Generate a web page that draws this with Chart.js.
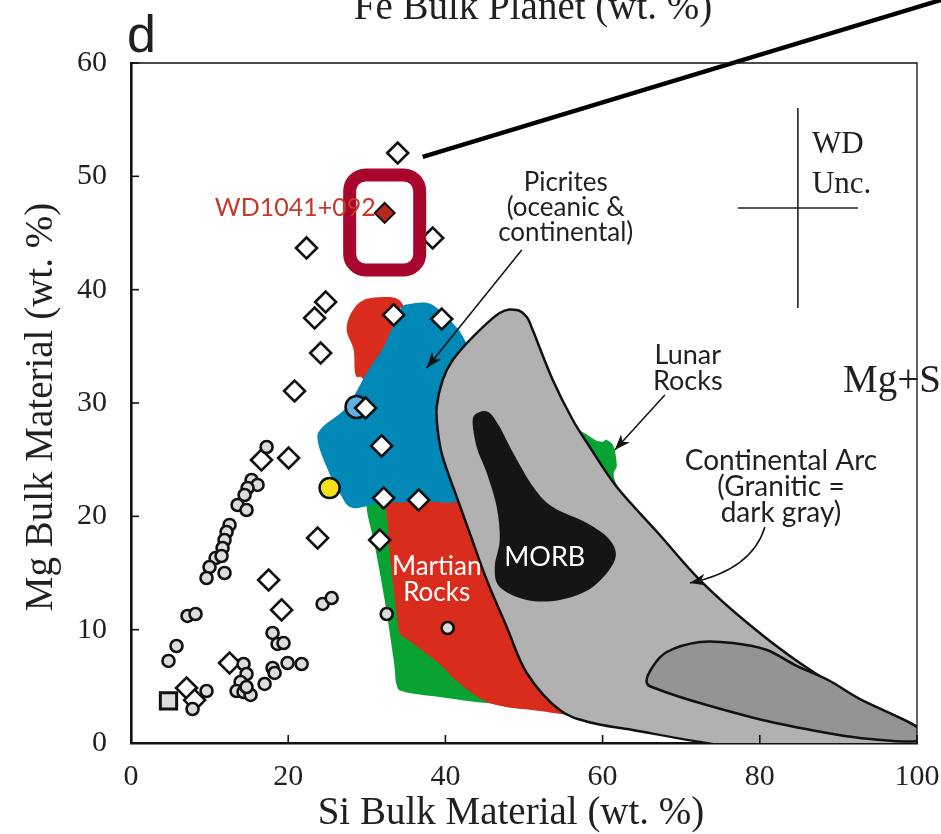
<!DOCTYPE html>
<html>
<head>
<meta charset="utf-8">
<script src="https://cdn.jsdelivr.net/npm/chart.js@4.4.1/dist/chart.umd.min.js"></script>
<style>
  html, body { margin: 0; padding: 0; background: #fff; }
  #wrap { width: 941px; height: 834px; position: relative; }
</style>
</head>
<body>
<div id="wrap"><canvas id="c" width="941" height="834"></canvas></div>
<script>
const SERIF = '"Liberation Serif", "Times New Roman", serif';
const SANS = 'Lato, "Open Sans", sans-serif';

// Axis ticks
const xTicks = [0, 20, 40, 60, 80, 100];
const yTicks = [0, 10, 20, 30, 40, 50, 60];

// Bulk material compositions [Si wt.%, Mg wt.%]
const bulkCircles = [
  [17.25, 26.12], [15.34, 23.21], [16.10, 22.77], [14.83, 22.50], [14.45, 21.88],
  [13.56, 21.00], [14.70, 20.56], [12.54, 19.24], [12.16, 18.62], [11.90, 17.91],
  [11.65, 17.21], [10.76, 16.32], [11.52, 16.50], [9.99, 15.53], [11.90, 15.00],
  [9.61, 14.56], [7.19, 11.21], [8.21, 11.38], [5.79, 8.56], [4.77, 7.24],
  [9.61, 4.59], [7.83, 3.00], [14.32, 6.97], [14.70, 6.09], [13.94, 5.38],
  [13.43, 4.59], [14.32, 4.50], [15.21, 4.24], [14.70, 4.94], [17.00, 5.21],
  [18.01, 6.62], [18.27, 6.18], [19.92, 7.06], [21.71, 6.97], [18.01, 9.71],
  [18.65, 8.74], [19.41, 8.82], [24.38, 12.27], [25.53, 12.79], [32.53, 11.38],
  [40.29, 10.15]
];
const bulkDiamonds = [
  [33.93, 52.06], [38.38, 44.56], [22.33, 43.68], [24.76, 38.91], [23.36, 37.50],
  [33.42, 37.77], [39.53, 37.41], [24.13, 34.41], [20.81, 31.06], [29.85, 29.56],
  [31.89, 26.21], [16.60, 24.97], [20.05, 25.15], [32.15, 21.62], [36.60, 21.44],
  [23.74, 18.09], [31.64, 17.91], [17.51, 14.38], [19.16, 11.74], [12.54, 7.06],
  [7.07, 4.85], [8.09, 3.79]
];
const bulkSquare = [[4.77, 3.71]];
const yellowPoint = [[25.27, 22.50]];
const bluePoint = [[28.70, 29.65]];
const wdPoint = [[32.27, 46.77]];

// Rock fields, outlines as [Si, Mg] vertices
const lunarRegion = [
  [29.98, 20.82], [30.49, 23.21], [36.73, 24.97], [43.09, 27.62], [54.55, 28.06],
  [59.39, 26.65], [60.53, 26.74], [61.43, 26.12], [61.81, 24.53], [61.81, 22.77],
  [67.28, 16.15], [59.64, 8.21], [52.01, 3.35], [45.26, 3.53], [39.27, 4.06],
  [34.82, 4.50], [33.80, 5.12], [33.42, 7.32], [32.27, 12.62], [31.00, 17.47]
];
const martianRegion = [
  [27.44, 36.44], [28.08, 38.03], [29.60, 39.09], [32.27, 39.35], [33.93, 39.18],
  [34.69, 38.47], [34.44, 37.50], [39.27, 30.26], [43.09, 23.21], [49.46, 12.62],
  [59.64, 3.79], [60.92, 1.85], [57.48, 2.29], [52.01, 2.82], [45.64, 3.53],
  [41.44, 5.47], [39.27, 6.97], [35.46, 9.00], [34.18, 9.71], [33.80, 11.47],
  [32.91, 16.77], [32.40, 20.82], [29.98, 31.15], [28.58, 32.47], [28.33, 34.68]
];
const picriteRegion = [
  [34.18, 38.21], [35.46, 38.74], [37.75, 38.83], [39.40, 38.12], [40.80, 37.15],
  [42.46, 35.56], [45.64, 30.26], [44.37, 22.32], [41.18, 21.27], [38.38, 21.27],
  [32.02, 21.18], [28.20, 20.74], [26.54, 22.06], [24.89, 24.35], [23.74, 26.74],
  [24.38, 27.88], [27.44, 29.65], [29.98, 32.65], [32.27, 35.12]
];
const arcRegion = [
  [46.91, 37.94], [49.08, 38.21], [50.35, 37.59], [51.11, 36.44], [53.66, 32.03],
  [56.21, 28.50], [58.37, 26.12], [61.81, 22.59], [67.28, 18.35], [72.37, 14.38],
  [78.74, 10.41], [85.10, 7.06], [92.74, 3.79], [100.0, 1.41], [100.0, -0.26],
  [91.47, -0.62], [80.01, -0.62], [72.37, 0.09], [63.84, 1.15], [58.75, 1.76],
  [54.55, 2.91], [50.35, 6.18], [47.80, 10.24], [45.26, 14.38], [43.09, 18.53],
  [41.44, 21.71], [39.65, 25.24], [39.02, 27.62], [38.89, 29.65], [39.65, 32.03],
  [40.93, 33.79], [43.47, 35.82]
];
const graniticRegion = [
  [65.63, 5.29], [66.27, 6.62], [68.17, 8.03], [72.37, 8.91], [76.58, 8.82],
  [80.90, 8.21], [84.47, 6.88], [88.92, 5.47], [92.74, 3.88], [100.0, 1.41],
  [100.0, 0.18], [94.02, 0.35], [89.31, 0.79], [80.90, 1.94], [72.37, 3.53],
  [67.28, 4.68]
];
const morbRegion = [
  [44.37, 29.21], [43.47, 28.50], [43.98, 26.12], [45.26, 23.82], [46.53, 20.82],
  [46.91, 17.91], [46.28, 15.53], [46.91, 13.77], [50.35, 12.62], [54.55, 12.62],
  [58.75, 13.77], [61.56, 16.15], [60.92, 17.91], [57.99, 19.41], [53.66, 20.82],
  [51.18, 22.59], [48.63, 25.59], [46.91, 27.88], [45.64, 29.12]
];

// WD uncertainty cross: centre and half-lengths
const wdUncCenter = [84.85, 47.21];
const wdUncHalf = [7.64, 8.82];

const toXY = arr => arr.map(([x, y]) => ({ x, y }));

function px(chart, x, y) {
  return { x: chart.scales.x.getPixelForValue(x), y: chart.scales.y.getPixelForValue(y) };
}

// Closed Catmull-Rom spline through the region vertices
function smoothClosedPath(ctx, chart, verts) {
  const p = verts.map(([a, b]) => px(chart, a, b));
  const n = p.length;
  ctx.beginPath();
  ctx.moveTo(p[0].x, p[0].y);
  for (let i = 0; i < n; i++) {
    const p0 = p[(i - 1 + n) % n], p1 = p[i], p2 = p[(i + 1) % n], p3 = p[(i + 2) % n];
    ctx.bezierCurveTo(
      p1.x + (p2.x - p0.x) / 6, p1.y + (p2.y - p0.y) / 6,
      p2.x - (p3.x - p1.x) / 6, p2.y - (p3.y - p1.y) / 6,
      p2.x, p2.y
    );
  }
  ctx.closePath();
}

function arrowHead(ctx, tip, from, len, half) {
  const ang = Math.atan2(tip.y - from.y, tip.x - from.x);
  ctx.beginPath();
  ctx.moveTo(tip.x, tip.y);
  ctx.lineTo(tip.x - len * Math.cos(ang) + half * Math.sin(ang), tip.y - len * Math.sin(ang) - half * Math.cos(ang));
  ctx.lineTo(tip.x - len * Math.cos(ang) * 0.7, tip.y - len * Math.sin(ang) * 0.7);
  ctx.lineTo(tip.x - len * Math.cos(ang) - half * Math.sin(ang), tip.y - len * Math.sin(ang) + half * Math.cos(ang));
  ctx.closePath();
  ctx.fill();
}

function textLines(ctx, chart, x, ys, lines, font, color, align) {
  ctx.font = font;
  ctx.fillStyle = color;
  ctx.textAlign = align || 'center';
  ctx.textBaseline = 'middle';
  lines.forEach((t, i) => {
    const p = px(chart, x, ys[i]);
    ctx.fillText(t, p.x, p.y);
  });
}

const fieldsPlugin = {
  id: 'rockFields',
  beforeDatasetsDraw(chart) {
    const ctx = chart.ctx, a = chart.chartArea;
    ctx.save();
    ctx.beginPath();
    ctx.rect(a.left, a.top, a.right - a.left, a.bottom - a.top);
    ctx.clip();
    const fills = [
      [lunarRegion, '#08a332', null],
      [martianRegion, '#da2c1c', null],
      [picriteRegion, '#0188b6', null],
      [arcRegion, '#b0b1b0', '#111'],
      [graniticRegion, '#949494', '#111'],
      [morbRegion, '#141615', null]
    ];
    fills.forEach(([verts, fill, stroke]) => {
      smoothClosedPath(ctx, chart, verts);
      ctx.fillStyle = fill;
      ctx.fill();
      if (stroke) {
        ctx.strokeStyle = stroke;
        ctx.lineWidth = 2.5;
        ctx.lineJoin = 'round';
        ctx.stroke();
      }
    });
    textLines(ctx, chart, 52.64, [16.41], ['MORB'], `27px ${SANS}`, '#fff');
    textLines(ctx, chart, 38.89, [15.53, 13.24], ['Martian', 'Rocks'], `26px ${SANS}`, '#fff');
    ctx.restore();
  },
  afterDatasetsDraw(chart) {
    const ctx = chart.ctx;
    ctx.save();
    ctx.strokeStyle = '#111';
    ctx.fillStyle = '#111';
    ctx.lineWidth = 1.5;

    // Picrites label and arrow
    textLines(ctx, chart, 55.31, [49.41, 47.21, 45.00], ['Picrites', '(oceanic &', 'continental)'], `26px ${SANS}`, '#231f20');
    let s = px(chart, 49.71, 43.50), e = px(chart, 37.62, 33.09);
    ctx.beginPath(); ctx.moveTo(s.x, s.y); ctx.lineTo(e.x, e.y); ctx.stroke();
    ctx.fillStyle = '#111'; arrowHead(ctx, e, s, 16, 6);

    // Lunar rocks label and arrow
    textLines(ctx, chart, 70.84, [34.24, 31.94], ['Lunar', 'Rocks'], `27px ${SANS}`, '#231f20');
    s = px(chart, 67.92, 30.71); e = px(chart, 61.55, 25.85);
    ctx.beginPath(); ctx.moveTo(s.x, s.y); ctx.lineTo(e.x, e.y); ctx.stroke();
    ctx.fillStyle = '#111'; arrowHead(ctx, e, s, 16, 6);

    // Continental arc label and curved arrow
    textLines(ctx, chart, 82.69, [24.88, 22.59, 20.29], ['Continental Arc', '(Granitic =', 'dark gray)'], `28px ${SANS}`, '#231f20');
    s = px(chart, 80.65, 19.06);
    const c = px(chart, 79.0, 15.27);
    e = px(chart, 71.10, 14.12);
    ctx.beginPath(); ctx.moveTo(s.x, s.y); ctx.quadraticCurveTo(c.x, c.y, e.x, e.y); ctx.stroke();
    ctx.fillStyle = '#111'; arrowHead(ctx, e, c, 16, 6);

    // WD uncertainty cross
    const [cx, cy] = wdUncCenter, [hx, hy] = wdUncHalf;
    ctx.lineWidth = 1.6;
    ctx.strokeStyle = '#222';
    let p1 = px(chart, cx - hx, cy), p2 = px(chart, cx + hx, cy);
    ctx.beginPath(); ctx.moveTo(p1.x, p1.y); ctx.lineTo(p2.x, p2.y); ctx.stroke();
    p1 = px(chart, cx, cy - hy); p2 = px(chart, cx, cy + hy);
    ctx.beginPath(); ctx.moveTo(p1.x, p1.y); ctx.lineTo(p2.x, p2.y); ctx.stroke();
    ctx.font = `31px ${SERIF}`;
    ctx.fillStyle = '#231f20';
    ctx.textAlign = 'left';
    ctx.textBaseline = 'alphabetic';
    let t = px(chart, 86.63, 52.06);
    ctx.fillText('WD', t.x, t.y);
    t = px(chart, 86.63, 48.53);
    ctx.fillText('Unc.', t.x, t.y);

    // Highlight box, then the WD1041+092 label over it
    const b1 = px(chart, 27.82, 50.12), b2 = px(chart, 36.73, 41.74);
    ctx.strokeStyle = '#a9062d';
    ctx.lineWidth = 13;
    ctx.beginPath();
    ctx.roundRect(b1.x, b1.y, b2.x - b1.x, b2.y - b1.y, 16);
    ctx.stroke();
    textLines(ctx, chart, 31.13, [47.21], ['WD1041+092'], `25px ${SANS}`, '#c23a2a', 'right');

    // Leader line toward the upper panel
    const l1 = px(chart, 37.11, 51.71), l2 = px(chart, 103.06, 65.56);
    ctx.strokeStyle = '#000';
    ctx.lineWidth = 4.5;
    ctx.beginPath(); ctx.moveTo(l1.x, l1.y); ctx.lineTo(l2.x, l2.y); ctx.stroke();
    ctx.restore();
  },
  afterDraw(chart) {
    const ctx = chart.ctx, a = chart.chartArea;
    ctx.save();
    // thin top and right frame
    ctx.strokeStyle = '#111';
    ctx.lineWidth = 1.3;
    ctx.beginPath();
    ctx.moveTo(a.left, a.top); ctx.lineTo(a.right, a.top); ctx.lineTo(a.right, a.bottom);
    ctx.stroke();
    // inward tick marks
    ctx.lineWidth = 1.6;
    xTicks.forEach(v => {
      const x = chart.scales.x.getPixelForValue(v);
      ctx.beginPath(); ctx.moveTo(x, a.bottom); ctx.lineTo(x, a.bottom - 8); ctx.stroke();
    });
    yTicks.forEach(v => {
      const y = chart.scales.y.getPixelForValue(v);
      ctx.beginPath(); ctx.moveTo(a.left, y); ctx.lineTo(a.left + 8, y); ctx.stroke();
    });
    // axis titles
    ctx.fillStyle = '#231f20';
    ctx.font = `39px ${SERIF}`;
    ctx.textAlign = 'center';
    ctx.textBaseline = 'middle';
    ctx.fillText('Si Bulk Material (wt. %)', a.left + 380, 814);
    ctx.save();
    ctx.translate(42, a.top + 344);
    ctx.rotate(-Math.PI / 2);
    ctx.fillText('Mg Bulk Material (wt. %)', 0, 0);
    ctx.restore();
    // neighbouring panel text
    ctx.textBaseline = 'alphabetic';
    ctx.fillText('Fe Bulk Planet (wt. %)', 533, 19);
    ctx.textAlign = 'left';
    ctx.fillText('Mg+S', 843, 392);
    ctx.font = `52px "Liberation Sans", Arial, sans-serif`;
    ctx.fillText('d', 127, 52);
    ctx.restore();
  }
};

new Chart(document.getElementById('c'), {
  type: 'scatter',
  data: {
    datasets: [
      { label: 'WD1041+092', data: toXY(wdPoint), pointStyle: 'rectRot', pointRadius: 10,
        backgroundColor: '#b5281d', borderColor: '#111', borderWidth: 2, order: 0 },
      { label: 'Bulk (circles)', data: toXY(bulkCircles), pointStyle: 'circle', pointRadius: 6,
        backgroundColor: '#dcdcdc', borderColor: '#111', borderWidth: 2.6, order: 1 },
      { label: 'Bulk (diamonds)', data: toXY(bulkDiamonds), pointStyle: 'rectRot', pointRadius: 10.5,
        backgroundColor: '#fff', borderColor: '#111', borderWidth: 2.6, order: 2 },
      { label: 'Bulk (square)', data: toXY(bulkSquare), pointStyle: 'rect', pointRadius: 11.5,
        backgroundColor: '#dcdcdc', borderColor: '#111', borderWidth: 3, order: 3 },
      { label: 'Yellow', data: toXY(yellowPoint), pointStyle: 'circle', pointRadius: 10,
        backgroundColor: '#f4e11b', borderColor: '#111', borderWidth: 2.6, order: 4 },
      { label: 'Blue', data: toXY(bluePoint), pointStyle: 'circle', pointRadius: 11,
        backgroundColor: '#5fb2e2', borderColor: '#111', borderWidth: 2.6, order: 5 }
    ]
  },
  options: {
    responsive: false,
    animation: false,
    layout: { padding: { left: 0, right: 24, top: 63, bottom: 0 } },
    plugins: { legend: { display: false }, tooltip: { enabled: false } },
    scales: {
      x: {
        type: 'linear', min: 0, max: 100,
        afterFit(s) { s.height = 91; s.paddingLeft = 0; s.paddingRight = 0; },
        afterBuildTicks(s) { s.ticks = xTicks.map(v => ({ value: v })); },
        grid: { display: false, drawTicks: false },
        border: { display: true, color: '#111', width: 2.6 },
        ticks: { font: { family: SERIF, size: 30 }, color: '#231f20', padding: 16, maxRotation: 0 }
      },
      y: {
        type: 'linear', min: 0, max: 60,
        afterFit(s) { s.width = 131; s.paddingTop = 0; s.paddingBottom = 0; },
        afterBuildTicks(s) { s.ticks = yTicks.map(v => ({ value: v })); },
        grid: { display: false, drawTicks: false },
        border: { display: true, color: '#111', width: 2.6 },
        ticks: { font: { family: SERIF, size: 30 }, color: '#231f20', padding: 24 }
      }
    }
  },
  plugins: [fieldsPlugin]
});
</script>
</body>
</html>
